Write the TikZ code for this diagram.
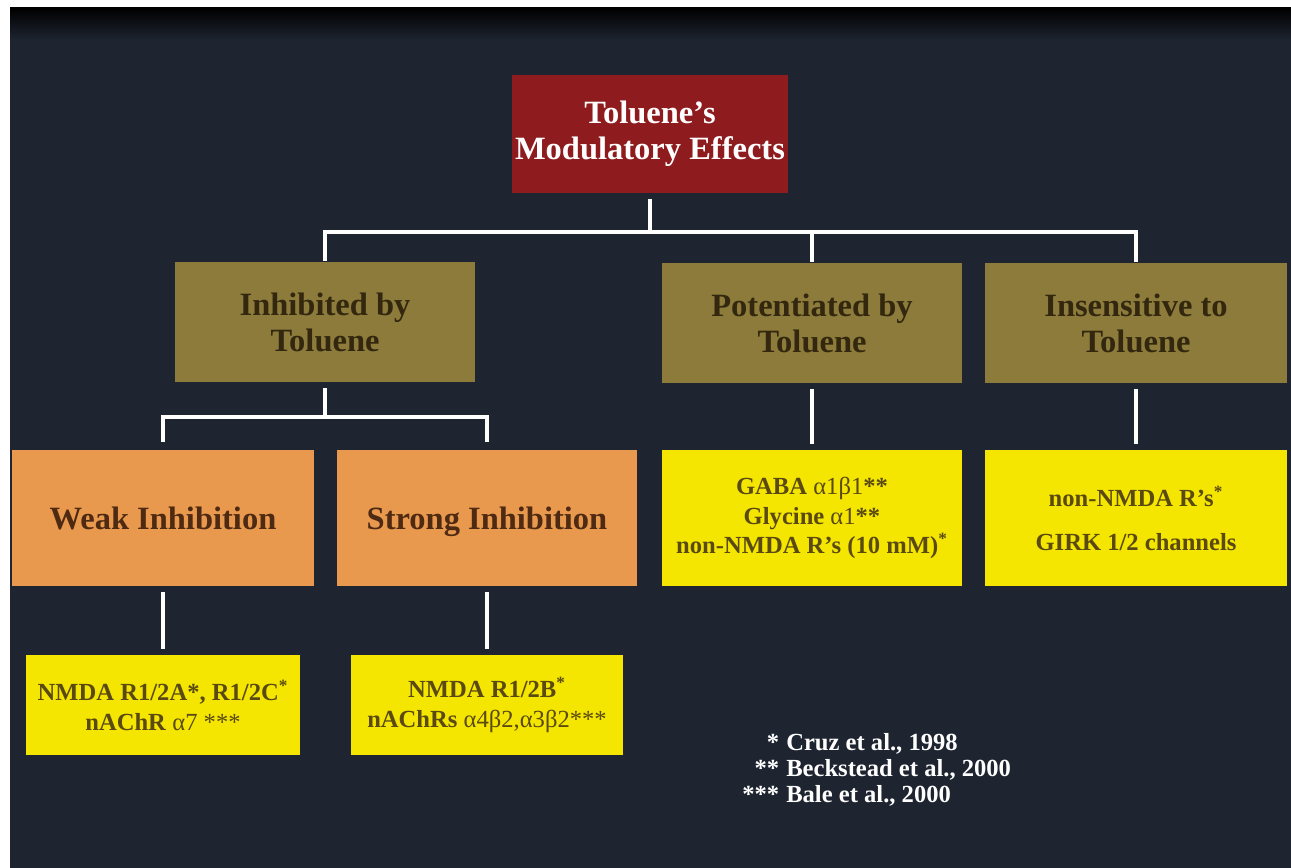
\documentclass[tikz,border=0pt]{standalone}
\usepackage{fontspec}
\setmainfont{Liberation Serif}
\usetikzlibrary{positioning,calc}

\definecolor{slidebg}{HTML}{1E2430}
\definecolor{rootred}{HTML}{8E1C1E}
\definecolor{olivebox}{HTML}{8C7B3A}
\definecolor{orangebox}{HTML}{E9994E}
\definecolor{yellowbox}{HTML}{F4E600}
\definecolor{olivetext}{HTML}{33280F}
\definecolor{orangetext}{HTML}{4E2A12}
\definecolor{yellowtext}{HTML}{5A4A12}

\begin{document}
\begin{tikzpicture}[x=0.02cm,y=-0.02cm,
  box/.style={rectangle, inner sep=2pt, align=center, font=\bfseries\fontsize{18.5}{20.5}\selectfont},
  rootbox/.style={box, fill=rootred, text=white, minimum width=5.46cm, minimum height=2.36cm},
  groupbox/.style={box, fill=olivebox, text=olivetext, minimum width=6cm, minimum height=2.42cm},
  levelbox/.style={box, fill=orangebox, text=orangetext, minimum width=6.04cm, minimum height=2.74cm,
    text height=15pt, text depth=1.4pt},
  listbox/.style={box, fill=yellowbox, text=yellowtext, font=\bfseries\fontsize{14}{17}\selectfont},
  link/.style={white, line width=2.2pt}]
\useasboundingbox (0,0) rectangle (1291,868);

% Slide background
\fill[white] (0,0) rectangle (1291,868);
\fill[slidebg] (10,8) rectangle (1291,868);
\shade[top color=black, bottom color=slidebg] (10,8) rectangle (1291,40);

% Boxes
\node[rootbox] (root) at (650,134) {Toluene's\\Modulatory Effects};

\node[groupbox] (inh) at (325,322) {Inhibited by\\Toluene};
\node[groupbox] (pot) at (812,323) {Potentiated by\\Toluene};
\node[groupbox, minimum width=6.04cm] (ins) at (1136,323) {Insensitive to\\Toluene};

\node[levelbox] (weak) at (163,518) {Weak Inhibition};
\node[levelbox, minimum width=6cm] (strong) at (487,518) {Strong Inhibition};
\node[listbox, minimum width=6cm, minimum height=2.74cm] (potlist) at (812,518)
  {GABA \textmd{α1β1}**\\Glycine \textmd{α1}**\\non-NMDA R's (10 mM)\textsuperscript{*}};
\node[listbox, minimum width=6.04cm, minimum height=2.74cm] (inslist) at (1136,518)
  {non-NMDA R's\textsuperscript{*}\\[8pt]GIRK 1/2 channels};

\node[listbox, minimum width=5.5cm, minimum height=2cm] (weaklist) at (163,705)
  {NMDA R1/2A*, R1/2C\textsuperscript{*}\\nAChR \textmd{α7 ***}};
\node[listbox, minimum width=5.46cm, minimum height=2cm] (stronglist) at (487,705)
  {NMDA R1/2B\textsuperscript{*}\\nAChRs \textmd{α4β2,α3β2***}};

% Connectors
\coordinate (topbar) at (650,232);
\coordinate (inhbar) at (325,417);
\draw[link, shorten <=3pt] (root.south) -- (topbar);
\draw[link] (inh.north) |- (topbar) -| (ins.north);
\draw[link] (topbar -| pot.north) -- (pot.north);
\draw[link, shorten <=3pt] (inh.south) -- (inhbar);
\draw[link, shorten <=4pt, shorten >=4pt] (weak.north) |- (inhbar) -| (strong.north);
\draw[link, shorten <=3pt, shorten >=3pt] (pot) -- (potlist);
\draw[link, shorten <=3pt, shorten >=3pt] (ins) -- (inslist);
\draw[link, shorten <=3pt, shorten >=3pt] (weak) -- (weaklist);
\draw[link, shorten <=3pt, shorten >=3pt] (strong) -- (stronglist);

% References
\node[anchor=west, inner sep=0pt, text=white, font=\bfseries\fontsize{14}{14.8}\selectfont] (refs) at (742,771)
  {\begin{tabular}{@{}r@{\hspace{4pt}}l@{}}
   {*} & Cruz et al., 1998\\
   {**} & Beckstead et al., 2000\\
   {***} & Bale et al., 2000
   \end{tabular}};
\end{tikzpicture}
\end{document}
